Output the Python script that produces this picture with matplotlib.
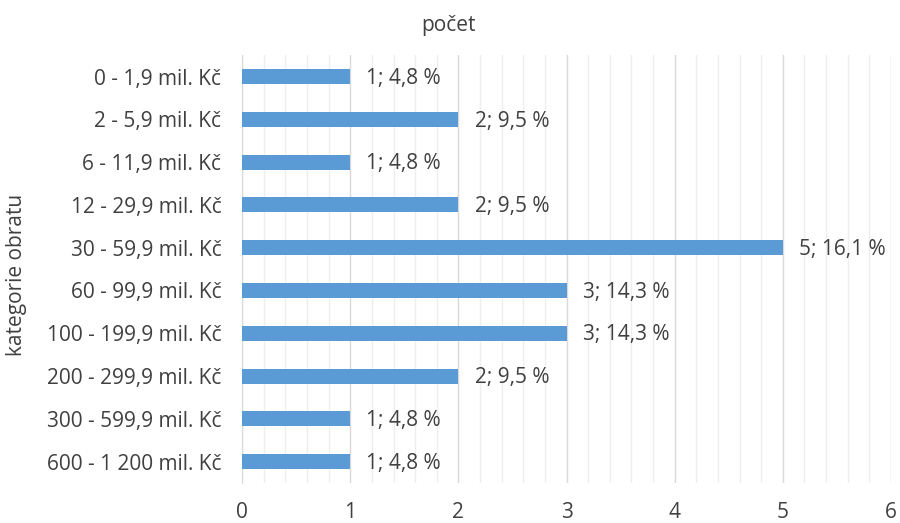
from matplotlib import pyplot as plt
from matplotlib.ticker import MultipleLocator

categories = ['0 - 1,9 mil. Kč', '2 - 5,9 mil. Kč', '6 - 11,9 mil. Kč', '12 - 29,9 mil. Kč',
              '30 - 59,9 mil. Kč', '60 - 99,9 mil. Kč', '100 - 199,9 mil. Kč',
              '200 - 299,9 mil. Kč', '300 - 599,9 mil. Kč', '600 - 1 200 mil. Kč']
counts = [1, 2, 1, 2, 5, 3, 3, 2, 1, 1]
percents = ['4,8 %', '9,5 %', '4,8 %', '9,5 %', '16,1 %', '14,3 %', '14,3 %', '9,5 %', '4,8 %', '4,8 %']

text_color = '#404040'
fs = 15
plt.rcParams['font.family'] = ['Open Sans', 'DejaVu Sans']

fig = plt.figure(figsize=(9, 5.23), dpi=100)
ax = fig.add_axes([0.269, 0.0765, 0.721, 0.818])

ypos = list(range(len(categories)))
ax.barh(ypos, counts, height=0.35, color='#5b9bd5', zorder=3)
for y, c, p in zip(ypos, counts, percents):
    ax.text(c + 0.15, y + 0.04, f'{c}; {p}', va='center', ha='left', fontsize=fs, color=text_color)

ax.set_xlim(0, 6)
ax.set_ylim(len(categories) - 0.5, -0.5)
ax.set_yticks(ypos)
ax.set_yticklabels(categories)
ax.xaxis.set_major_locator(MultipleLocator(1))
ax.xaxis.set_minor_locator(MultipleLocator(0.2))
ax.grid(which='major', axis='x', color='#d9d9d9', linewidth=1, zorder=0)
ax.grid(which='minor', axis='x', color='#eeeeee', linewidth=1, zorder=0)
ax.tick_params(axis='both', which='both', length=0, labelsize=fs, labelcolor=text_color)
ax.tick_params(axis='x', pad=14)
ax.tick_params(axis='y', pad=15)
for s in ['top', 'right', 'bottom']:
    ax.spines[s].set_visible(False)
ax.spines['left'].set_color('#d9d9d9')

fig.text(0.498, 0.952, 'počet', fontsize=fs, color=text_color, ha='center', va='center')
fig.text(0.018, 0.474, 'kategorie obratu', fontsize=fs, color=text_color,
         ha='center', va='center', rotation=90)

fig.savefig('out.png', dpi=100, facecolor='white')
